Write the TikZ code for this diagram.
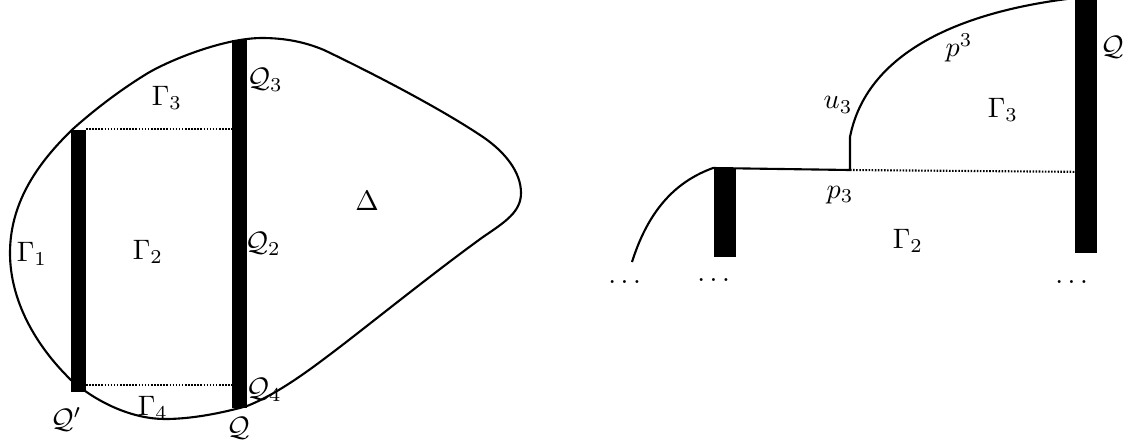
\documentclass[tikz,border=0pt]{standalone}
\usepackage{amsmath,amssymb}
\usepackage{tikz}
\begin{document}
\begin{tikzpicture}[x=0.0125cm,y=-0.0125cm,
curveline/.style={line width=0.75pt,line join=round},
gapline/.style={line width=0.75pt,dash pattern=on 0.55pt off 0.55pt},
thinbar/.style={fill=black,inner sep=0pt,minimum width=0.19cm},
widebar/.style={fill=black,inner sep=0pt,minimum width=0.285cm}]
\useasboundingbox (0,0) rectangle (1134,446);
% left figure
\draw[curveline] (262,38) .. controls (285,38) and (305,42) .. (324,50) .. controls (370,72) and (440,108) .. (483,137) .. controls (505,152) and (521,172) .. (521,193) .. controls (521,212) and (505,222) .. (483,237) .. controls (440,268) and (385,312) .. (345,343) .. controls (315,366) and (280,393) .. (247,406) .. controls (222,413) and (192,419) .. (165,419) .. controls (135,419) and (100,405) .. (71,380) .. controls (35,345) and (10,300) .. (10,253) .. controls (10,205) and (35,165) .. (74,128) .. controls (100,105) and (125,87) .. (148,73) .. controls (172,59) and (225,38) .. (262,38) -- cycle;
\node[thinbar,minimum height=3.275cm] (barQp) at (78.5,261) {};
\node[thinbar,minimum height=4.6cm] (barQ) at (239.5,224) {};
\coordinate (a1) at (86,129); \coordinate (a2) at (232,129);
\coordinate (b1) at (86,385); \coordinate (b2) at (232,385);
\draw[gapline] (a1)--(a2); \draw[gapline] (b1)--(b2);
\node (G1) at (32,254) {$\Gamma_1$};
\node (G2) at (148,252) {$\Gamma_2$};
\node (G3) at (167,98) {$\Gamma_3$};
\node (G4) at (153,408) {$\Gamma_4$};
\node (D) at (367,201) {$\Delta$};
\node (Q3) at (265,80) {$\mathcal{Q}_3$};
\node (Q2) at (263,244) {$\mathcal{Q}_2$};
\node (Q4) at (264,390) {$\mathcal{Q}_4$};
\node (Qp) at (66,419) {$\mathcal{Q}'$};
\node (Qb) at (238,428) {$\mathcal{Q}$};
% right figure
\coordinate (c1) at (713,168); \coordinate (c2) at (850,170); \coordinate (c3) at (850,137); \coordinate (c4) at (1097,172);
\draw[curveline] (632,262) .. controls (650,205) and (680,180) .. (c1) -- (c2) -- (c3) .. controls (866,55) and (955,12) .. (1075,-2);
\node[widebar,minimum height=1.1125cm] (barL) at (725,212.5) {};
\node[widebar,minimum height=3.2cm] (barR) at (1086,125) {};
\draw[gapline] (c2)--(c4);
\node (u3) at (838,105) {$u_3$};
\node (p3up) at (959,48) {$p^3$};
\node (p3low) at (840,195) {$p_3$};
\node (G3r) at (1003,110) {$\Gamma_3$};
\node (G2r) at (908,241) {$\Gamma_2$};
\node (Qr) at (1112,47) {$\mathcal{Q}$};
\node (d1) at (627,282) {$\dots$};
\node (d2) at (716,280) {$\dots$};
\node (d3) at (1074,282) {$\dots$};
\end{tikzpicture}
\end{document}
